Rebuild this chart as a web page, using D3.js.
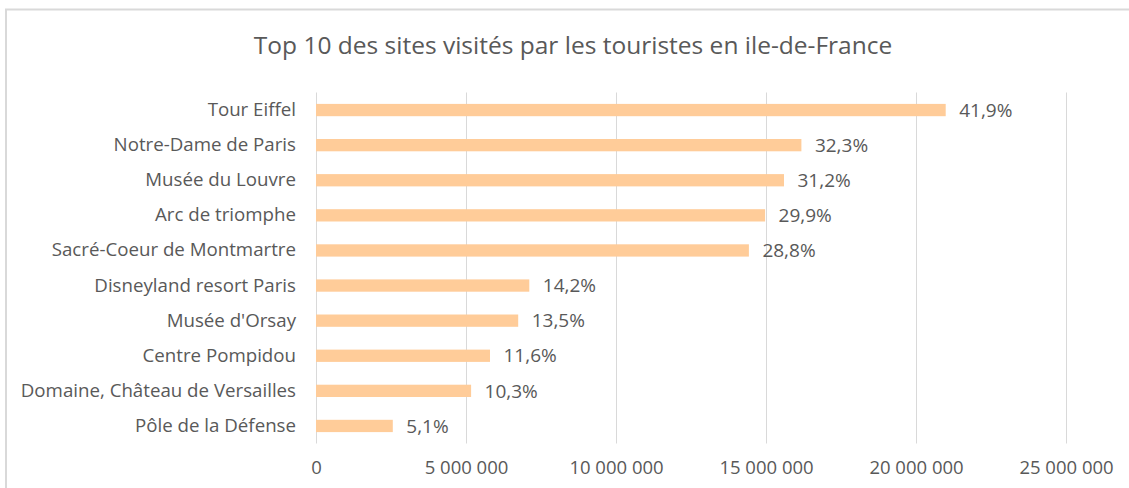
<!DOCTYPE html>
<html>
<head>
    <title>Top 10 des sites</title>
    <meta charset="UTF-8">
    <script type="text/javascript" src="https://cdn.jsdelivr.net/npm/d3@7"></script>
    <style>
        body { margin: 0; background: #ffffff; }
        text { font-family: "Open Sans", sans-serif; fill: #595959; }
    </style>
</head>
<body>
<svg class="chart" width="1129" height="488"></svg>
<script type="text/javascript">
    // sites, from top to bottom
    var sites = [
        "Tour Eiffel",
        "Notre-Dame de Paris",
        "Musée du Louvre",
        "Arc de triomphe",
        "Sacré-Coeur de Montmartre",
        "Disneyland resort Paris",
        "Musée d'Orsay",
        "Centre Pompidou",
        "Domaine, Château de Versailles",
        "Pôle de la Défense"
    ];

    // visitors
    var visitors = [20990000, 16180000, 15600000, 14970000, 14430000,
                    7110000, 6740000, 5800000, 5170000, 2560000];

    // data labels shown at the end of each bar
    var shares = ["41,9%", "32,3%", "31,2%", "29,9%", "28,8%",
                  "14,2%", "13,5%", "11,6%", "10,3%", "5,1%"];

    var ticks = [0, 5000000, 10000000, 15000000, 20000000, 25000000];

    var svg = d3.select(".chart");

    // chart area border (only top and left visible)
    svg.append("rect")
        .attr("x", 6)
        .attr("y", 9.5)
        .attr("width", 1200)
        .attr("height", 600)
        .attr("fill", "none")
        .attr("stroke", "#d9d9d9")
        .attr("stroke-width", 2);

    svg.append("text")
        .attr("x", 573)
        .attr("y", 54)
        .attr("text-anchor", "middle")
        .style("font-size", "24.5px")
        .text("Top 10 des sites visités par les touristes en ile-de-France");

    var x = d3.scaleLinear()
        .domain([0, 25000000])
        .range([316, 1066]);

    var y = d3.scaleBand()
        .domain(sites)
        .range([92.5, 443.5])
        .paddingInner(0.65)
        .paddingOuter(0.325);

    var fr = d3.formatLocale({decimal: ",", thousands: " ", grouping: [3], currency: ["", "€"]});
    var fmt = fr.format(",d");

    // gridlines
    svg.append("g")
        .selectAll("line")
        .data(ticks)
        .enter()
        .append("line")
        .attr("x1", function(d) { return Math.round(x(d)) + 0.5; })
        .attr("x2", function(d) { return Math.round(x(d)) + 0.5; })
        .attr("y1", 92.5)
        .attr("y2", 443.5)
        .attr("stroke", "#d9d9d9")
        .attr("stroke-width", 1);

    // x axis labels
    var xAxis = d3.axisBottom(x)
        .tickValues(ticks)
        .tickFormat(fmt)
        .tickSize(0)
        .tickPadding(0);

    var gx = svg.append("g")
        .attr("transform", "translate(0,461)")
        .call(xAxis);
    gx.select(".domain").remove();
    gx.selectAll("text")
        .attr("dy", "0.71em")
        .style("font-size", "18.5px")
        .style("font-family", "'Open Sans', sans-serif")
        .attr("fill", "#595959");

    // y axis labels
    var yAxis = d3.axisLeft(y)
        .tickSize(0)
        .tickPadding(20);

    var gy = svg.append("g")
        .attr("transform", "translate(316,0)")
        .call(yAxis);
    gy.select(".domain").remove();
    gy.selectAll("text")
        .style("font-size", "18.7px")
        .style("font-family", "'Open Sans', sans-serif")
        .attr("fill", "#595959");

    // bars
    svg.append("g")
        .selectAll("rect")
        .data(sites)
        .enter()
        .append("rect")
        .attr("x", x(0))
        .attr("y", function(d) { return y(d); })
        .attr("width", function(d, i) { return x(visitors[i]) - x(0); })
        .attr("height", y.bandwidth())
        .attr("fill", "#ffcc99");

    // data labels
    svg.append("g")
        .selectAll("text")
        .data(sites)
        .enter()
        .append("text")
        .attr("x", function(d, i) { return x(visitors[i]) + 13.5; })
        .attr("y", function(d) { return y(d) + y.bandwidth() / 2; })
        .attr("dy", "0.35em")
        .style("font-size", "19px")
        .text(function(d, i) { return shares[i]; });
</script>
</body>
</html>
